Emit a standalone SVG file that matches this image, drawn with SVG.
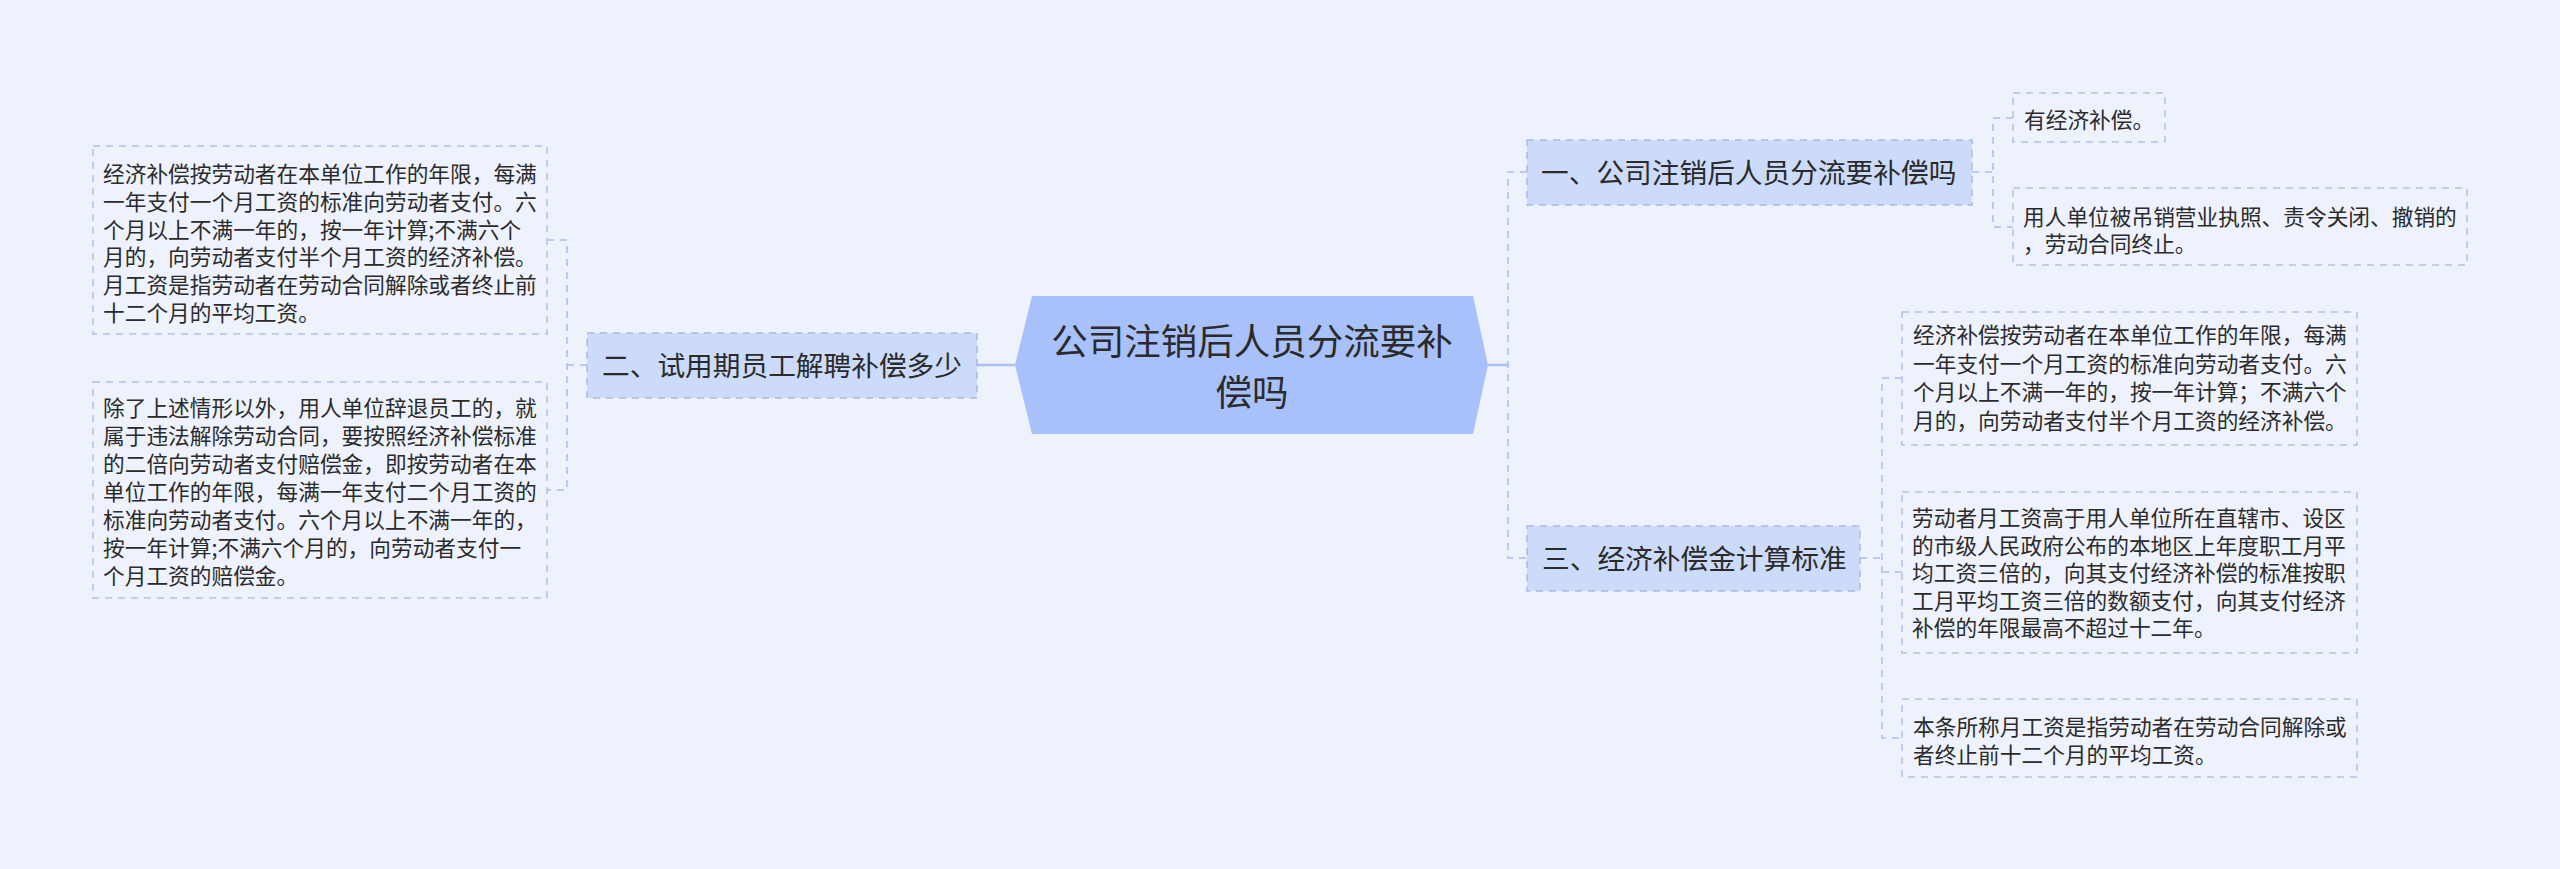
<svg xmlns="http://www.w3.org/2000/svg" width="2560" height="869" viewBox="0 0 2560 869">
<style>
text{font-family:"Noto Sans CJK SC","Noto Sans",sans-serif;fill:#2b2b2b}
.c{font-size:36.5px}
.b{font-size:27.7px}
.l{font-size:21.7px}
.br{fill:#ccdbfa;stroke:#a9bbe6;stroke-width:1.5;stroke-dasharray:7 6}
.lf{fill:#eef2fc;stroke:#b3c1e4;stroke-width:1.5;stroke-dasharray:7 6}
.cn{fill:none;stroke:#aabdec;stroke-width:1.5;stroke-dasharray:7 6}
.cs{fill:none;stroke:#aac0f2;stroke-width:2.5}
</style>
<rect width="2560" height="869" fill="#eef2fc"/>
<g id="connectors">
<line class="cs" x1="977" y1="365" x2="1015" y2="365"/>
<line class="cs" x1="1488" y1="365" x2="1508" y2="365"/>
<path class="cn" d="M547 240 H567 V490 H547 M567 365 H587"/>
<path class="cn" d="M1527 172 H1508 V558 H1527"/>
<path class="cn" d="M1972 172 H1993 M2013 118 H1993 V227 H2013"/>
<path class="cn" d="M1860 558 H1882 M1902 378 H1882 V738 H1902 M1882 572 H1902"/>
</g>
<g id="center">
<polygon points="1032,296 1473,296 1488,365 1473,434 1032,434 1015,365" fill="#a8c1fb"/>
<text class="c" x="1252" y="355" text-anchor="middle">公司注销后人员分流要补</text>
<text class="c" x="1252" y="406" text-anchor="middle">偿吗</text>
</g>
<g id="node-2">
<rect class="br" x="587" y="333" width="390" height="65"/>
<text class="b" x="602" y="376">二、试用期员工解聘补偿多少</text>
</g>
<g id="leaf-2a">
<rect class="lf" x="93" y="146" width="454" height="188"/>
<text class="l" x="103" y="182">经济补偿按劳动者在本单位工作的年限，每满</text>
<text class="l" x="103" y="209.8">一年支付一个月工资的标准向劳动者支付。六</text>
<text class="l" x="103" y="237.6">个月以上不满一年的，按一年计算;不满六个</text>
<text class="l" x="103" y="265.4">月的，向劳动者支付半个月工资的经济补偿。</text>
<text class="l" x="103" y="293.2">月工资是指劳动者在劳动合同解除或者终止前</text>
<text class="l" x="103" y="321">十二个月的平均工资。</text>
</g>
<g id="leaf-2b">
<rect class="lf" x="93" y="382" width="454" height="216"/>
<text class="l" x="103" y="416">除了上述情形以外，用人单位辞退员工的，就</text>
<text class="l" x="103" y="444">属于违法解除劳动合同，要按照经济补偿标准</text>
<text class="l" x="103" y="472">的二倍向劳动者支付赔偿金，即按劳动者在本</text>
<text class="l" x="103" y="500">单位工作的年限，每满一年支付二个月工资的</text>
<text class="l" x="103" y="528">标准向劳动者支付。六个月以上不满一年的，</text>
<text class="l" x="103" y="556">按一年计算;不满六个月的，向劳动者支付一</text>
<text class="l" x="103" y="584">个月工资的赔偿金。</text>
</g>
<g id="node-1">
<rect class="br" x="1527" y="140" width="445" height="65"/>
<text class="b" x="1541" y="183">一、公司注销后人员分流要补偿吗</text>
</g>
<g id="leaf-1a">
<rect class="lf" x="2013" y="93" width="152" height="49"/>
<text class="l" x="2024" y="128">有经济补偿。</text>
</g>
<g id="leaf-1b">
<rect class="lf" x="2013" y="188" width="454" height="77"/>
<text class="l" x="2023" y="225">用人单位被吊销营业执照、责令关闭、撤销的</text>
<text class="l" x="2023" y="252">，劳动合同终止。</text>
</g>
<g id="node-3">
<rect class="br" x="1527" y="526" width="333" height="65"/>
<text class="b" x="1542" y="569">三、经济补偿金计算标准</text>
</g>
<g id="leaf-3a">
<rect class="lf" x="1902" y="312" width="455" height="133"/>
<text class="l" x="1913" y="343">经济补偿按劳动者在本单位工作的年限，每满</text>
<text class="l" x="1913" y="371.5">一年支付一个月工资的标准向劳动者支付。六</text>
<text class="l" x="1913" y="400">个月以上不满一年的，按一年计算；不满六个</text>
<text class="l" x="1913" y="428.5">月的，向劳动者支付半个月工资的经济补偿。</text>
</g>
<g id="leaf-3b">
<rect class="lf" x="1902" y="492" width="455" height="161"/>
<text class="l" x="1912" y="526">劳动者月工资高于用人单位所在直辖市、设区</text>
<text class="l" x="1912" y="553.5">的市级人民政府公布的本地区上年度职工月平</text>
<text class="l" x="1912" y="581">均工资三倍的，向其支付经济补偿的标准按职</text>
<text class="l" x="1912" y="608.5">工月平均工资三倍的数额支付，向其支付经济</text>
<text class="l" x="1912" y="636">补偿的年限最高不超过十二年。</text>
</g>
<g id="leaf-3c">
<rect class="lf" x="1902" y="699" width="455" height="78"/>
<text class="l" x="1913" y="735">本条所称月工资是指劳动者在劳动合同解除或</text>
<text class="l" x="1913" y="763">者终止前十二个月的平均工资。</text>
</g>
</svg>
